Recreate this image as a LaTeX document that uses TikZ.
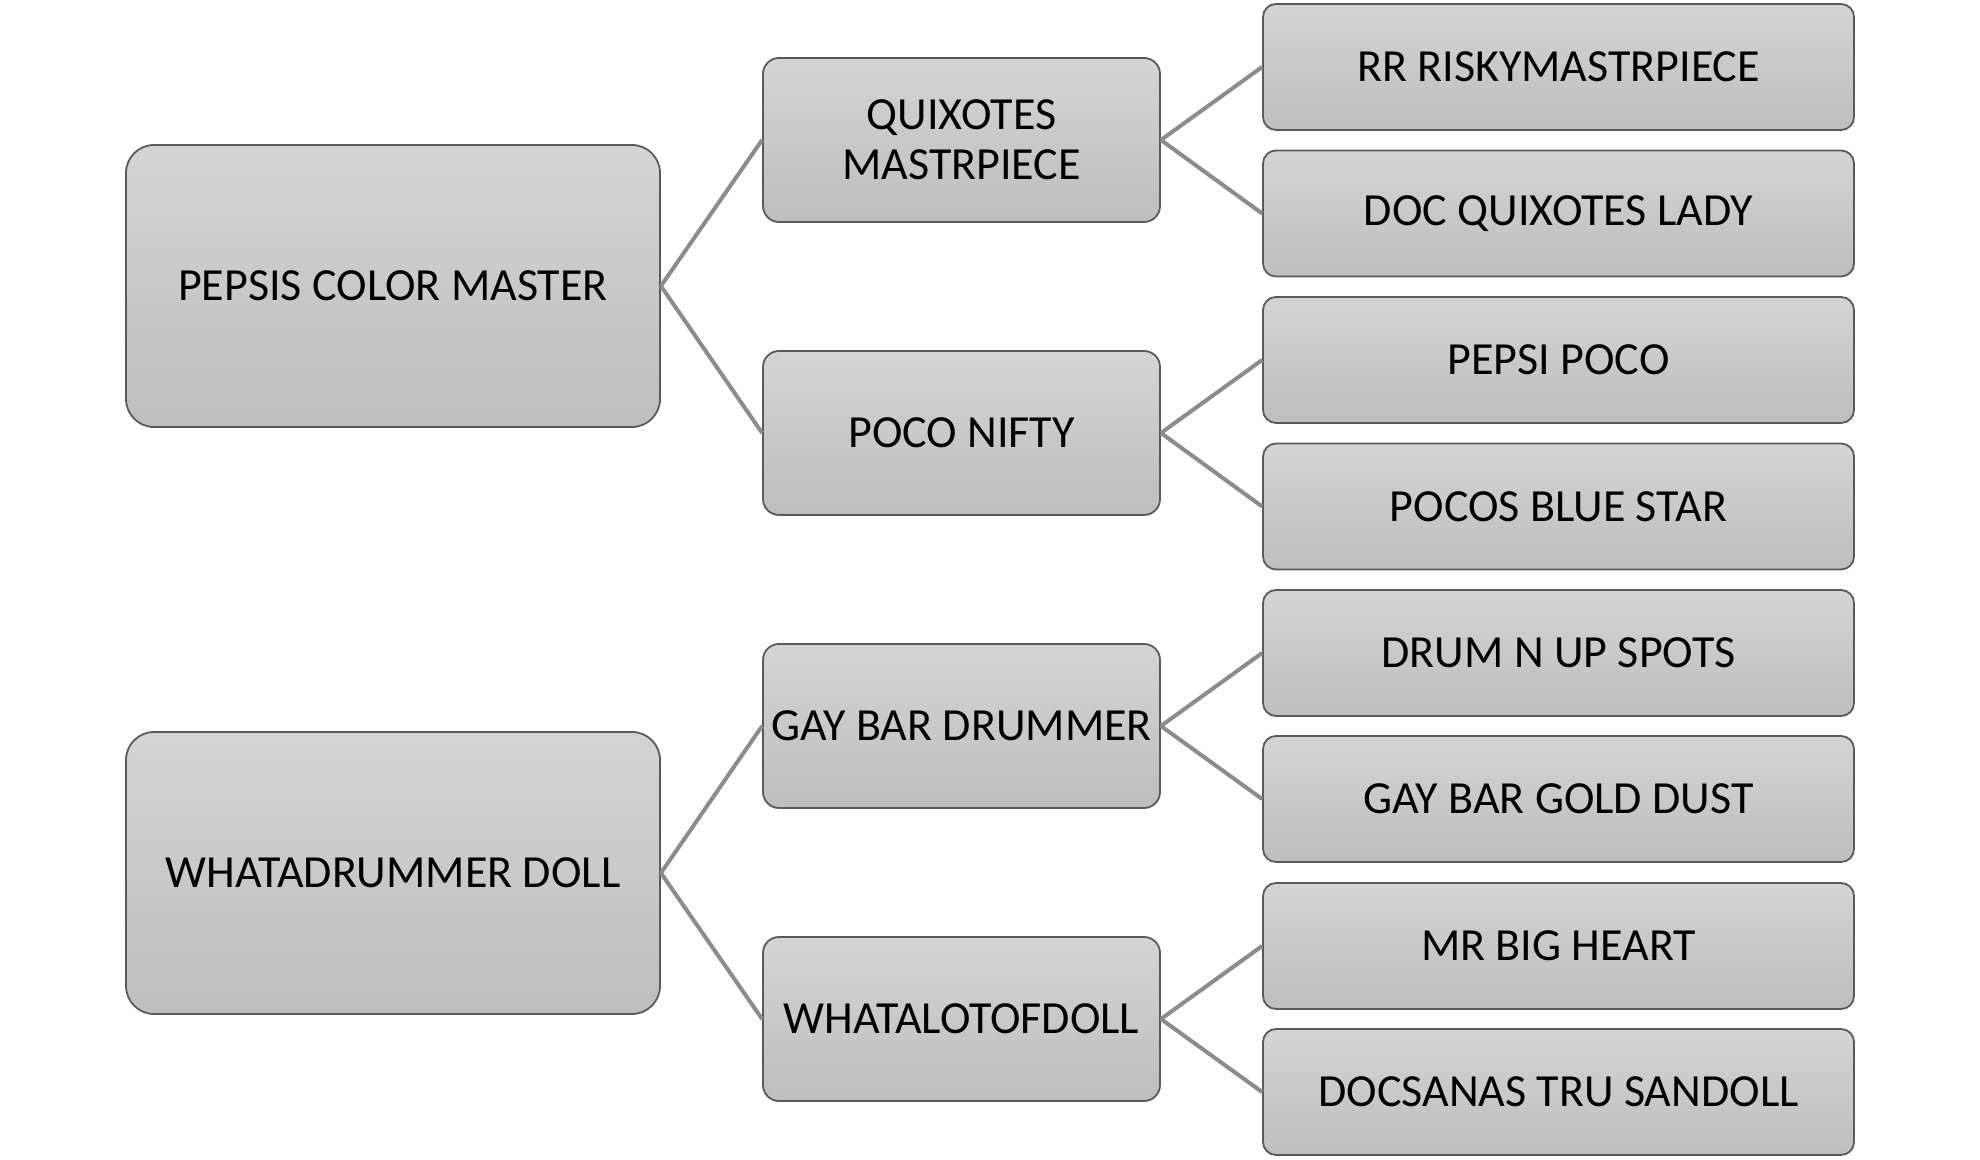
\documentclass[tikz,border=0pt]{standalone}
\usepackage{fontspec}
\setmainfont{Carlito}
\begin{document}
\begin{tikzpicture}[x=1pt,y=1pt,
  box/.style={draw=boxborder, line width=1.8pt, top color=boxtop, bottom color=boxbot,
    inner sep=0pt, align=center, font=\fontsize{46}{50}\selectfont, text=black},
  rootbox/.style={box, minimum width=534pt, minimum height=282pt, rounded corners=28pt},
  midbox/.style={box, minimum width=397pt, minimum height=164pt, rounded corners=16pt},
  leafbox/.style={box, minimum width=591pt, minimum height=126pt, rounded corners=13pt},
  link/.style={draw=linkgray, line width=4pt}]
\definecolor{boxtop}{HTML}{D4D4D4}
\definecolor{boxbot}{HTML}{BEBEBE}
\definecolor{boxborder}{HTML}{5A5A5A}
\definecolor{linkgray}{HTML}{8C8C8C}
\fill[white] (0,0) rectangle (1980,1159);
\useasboundingbox (0,0) rectangle (1980,1159);
% connectors (drawn first, under the boxes)
\node[rootbox] (r1) at (393,{1159-286}) {PEPSIS COLOR MASTER};
\node[rootbox] (r2) at (393,{1159-873}) {WHATADRUMMER DOLL};
\node[midbox] (m1) at (961.5,{1159-140}) {QUIXOTES\\MASTRPIECE};
\node[midbox] (m2) at (961.5,{1159-433}) {POCO NIFTY};
\node[midbox] (m3) at (961.5,{1159-726}) {GAY BAR DRUMMER};
\node[midbox] (m4) at (961.5,{1159-1019}) {WHATALOTOFDOLL};
\node[leafbox] (l1) at (1558.5,{1159-67}) {RR RISKYMASTRPIECE};
\node[leafbox] (l2) at (1558.5,{1159-213.5}) {DOC QUIXOTES LADY};
\node[leafbox] (l3) at (1558.5,{1159-360}) {PEPSI POCO};
\node[leafbox] (l4) at (1558.5,{1159-506.5}) {POCOS BLUE STAR};
\node[leafbox] (l5) at (1558.5,{1159-653}) {DRUM N UP SPOTS};
\node[leafbox] (l6) at (1558.5,{1159-799}) {GAY BAR GOLD DUST};
\node[leafbox] (l7) at (1558.5,{1159-946}) {MR BIG HEART};
\node[leafbox] (l8) at (1558.5,{1159-1092}) {DOCSANAS TRU SANDOLL};
\draw[link] (r1.east) -- (m1.west);
\draw[link] (r1.east) -- (m2.west);
\draw[link] (r2.east) -- (m3.west);
\draw[link] (r2.east) -- (m4.west);
\draw[link] (m1.east) -- (l1.west);
\draw[link] (m1.east) -- (l2.west);
\draw[link] (m2.east) -- (l3.west);
\draw[link] (m2.east) -- (l4.west);
\draw[link] (m3.east) -- (l5.west);
\draw[link] (m3.east) -- (l6.west);
\draw[link] (m4.east) -- (l7.west);
\draw[link] (m4.east) -- (l8.west);
\end{tikzpicture}
\end{document}
